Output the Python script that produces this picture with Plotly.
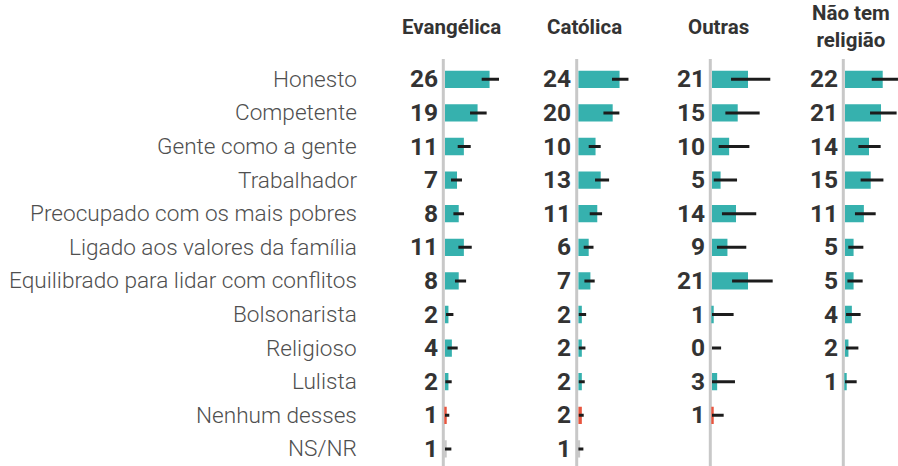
import plotly.graph_objects as go

# ---------------- data ----------------
categories = ["Honesto", "Competente", "Gente como a gente", "Trabalhador",
              "Preocupado com os mais pobres", "Ligado aos valores da família",
              "Equilibrado para lidar com conflitos", "Bolsonarista", "Religioso",
              "Lulista", "Nenhum desses", "NS/NR"]

groups = ["Evangélica", "Católica", "Outras", "Não tem<br>religião"]

evangelica = [26, 19, 11, 7, 8, 11, 8, 2, 4, 2, 1, 1]
catolica = [24, 20, 10, 13, 11, 6, 7, 2, 2, 2, 2, 1]
outras = [21, 15, 10, 5, 14, 9, 21, 1, 0, 3, 1, None]
sem_religiao = [22, 21, 14, 15, 11, 5, 5, 4, 2, 1, None, None]

# confidence interval bounds
evangelica_lo = [21.4, 14.6, 7.4, 3.5, 4.9, 7.8, 5.8, 0.6, 1.4, 0.2, 0, 0]
evangelica_hi = [31.5, 24.3, 15.0, 9.9, 11.1, 15.6, 12.3, 4.9, 7.4, 3.9, 2.5, 3.7]
catolica_lo = [19.6, 14.6, 6.0, 9.7, 6.6, 3.1, 3.5, 0.2, 0.2, 0.2, 0.2, 0]
catolica_hi = [29.2, 23.9, 13.0, 17.9, 13.8, 8.8, 9.5, 4.5, 4.1, 3.7, 3.1, 2.9]
outras_lo = [11.1, 7.8, 3.9, 1.0, 5.8, 2.9, 11.7, 0, 0, 0, 0, None]
outras_hi = [34.0, 27.8, 21.8, 14.6, 25.8, 20.0, 35.4, 12.6, 5.3, 13.4, 6.8, None]
sem_lo = [15.6, 14.6, 7.8, 9.1, 5.8, 1.9, 1.4, 0.6, 0.6, 0, None, None]
sem_hi = [30.9, 30.1, 20.8, 22.4, 17.9, 10.7, 10.3, 9.1, 7.8, 6.8, None, None]

series = [(evangelica, evangelica_lo, evangelica_hi),
          (catolica, catolica_lo, catolica_hi),
          (outras, outras_lo, outras_hi),
          (sem_religiao, sem_lo, sem_hi)]

# ---------------- layout constants ----------------
W, H = 898, 466
PXU = 1.714                      # pixels per percentage point
panel_left = [443.3, 576.7, 710.3, 843.3]   # px of each panel's vertical line
TEAL = "#36b1ae"
RED = "#e8553e"
GREY = "#c8c8c8"
row_top, row_pitch = 62.5, 33.6

def bar_color(cat):
    if cat == "Nenhum desses":
        return RED
    if cat == "NS/NR":
        return GREY
    return TEAL

fig = go.Figure()
annotations = []
shapes = []
layout_axes = {}

for i, (vals, lo, hi) in enumerate(series):
    ax = "" if i == 0 else str(i + 1)
    xs, ys, ep, em, cols = [], [], [], [], []
    for c, v, l, h in zip(categories, vals, lo, hi):
        if v is None:
            continue
        xs.append(v)
        ys.append(c)
        ep.append(h - v)
        em.append(v - l)
        cols.append(bar_color(c))
        annotations.append(dict(
            xref="x" + ax, yref="y", x=0, y=c, text=str(v),
            xanchor="right", yanchor="middle", xshift=-5, yshift=0.5,
            showarrow=False,
            font=dict(family="Roboto", size=24.5, color="#333333", weight="bold")))
    fig.add_trace(go.Bar(
        x=xs, y=ys, orientation="h", xaxis="x" + ax, yaxis="y",
        marker=dict(color=cols, line=dict(width=0)),
        error_x=dict(type="data", symmetric=False, array=ep, arrayminus=em,
                     color="#1c1c1c", thickness=3, width=0),
        cliponaxis=False, showlegend=False, hoverinfo="x+y"))
    left = panel_left[i]
    width = min(120, W - left)
    layout_axes["xaxis" + ax] = dict(
        domain=[left / W, (left + width) / W],
        range=[-1, -1 + width / PXU],
        showgrid=False, zeroline=False, showticklabels=False, ticks="",
        showline=False, anchor="y", fixedrange=True)
    shapes.append(dict(type="line", xref=("x" + ax + " domain"), yref="paper",
                       x0=0, x1=0, y0=0, y1=1 - 59 / H,
                       line=dict(color=GREY, width=3), layer="below"))
    annotations.append(dict(
        xref=("x" + ax + " domain"), yref="paper", x=0, y=1 - 27 / H,
        xshift=8, text="<b>" + groups[i] + "</b>", showarrow=False,
        xanchor="center", yanchor="middle", align="center",
        font=dict(family="Roboto", size=20.5, color="#333333")))

for c in categories:
    annotations.append(dict(
        xref="paper", yref="y", x=359 / W, y=c, text=c, showarrow=False,
        xanchor="right", yanchor="middle",
        font=dict(family="Roboto", size=22.6, color="#4f4f4f", weight=300)))

fig.update_layout(
    width=W, height=H,
    margin=dict(l=0, r=0, t=0, b=0),
    paper_bgcolor="white", plot_bgcolor="rgba(0,0,0,0)",
    bargap=0.485,
    yaxis=dict(type="category", categoryarray=categories, categoryorder="array",
               autorange=False, range=[len(categories) - 0.5, -0.5],
               domain=[1 - (row_top + row_pitch * len(categories)) / H, 1 - row_top / H],
               showgrid=False, zeroline=False, showticklabels=False, ticks="",
               fixedrange=True),
    annotations=annotations, shapes=shapes,
    **layout_axes)

fig.write_html("out.html",
               config={"displayModeBar": False},
               post_script="document.body.style.margin='0px';"
                           "document.body.style.overflow='hidden';")
